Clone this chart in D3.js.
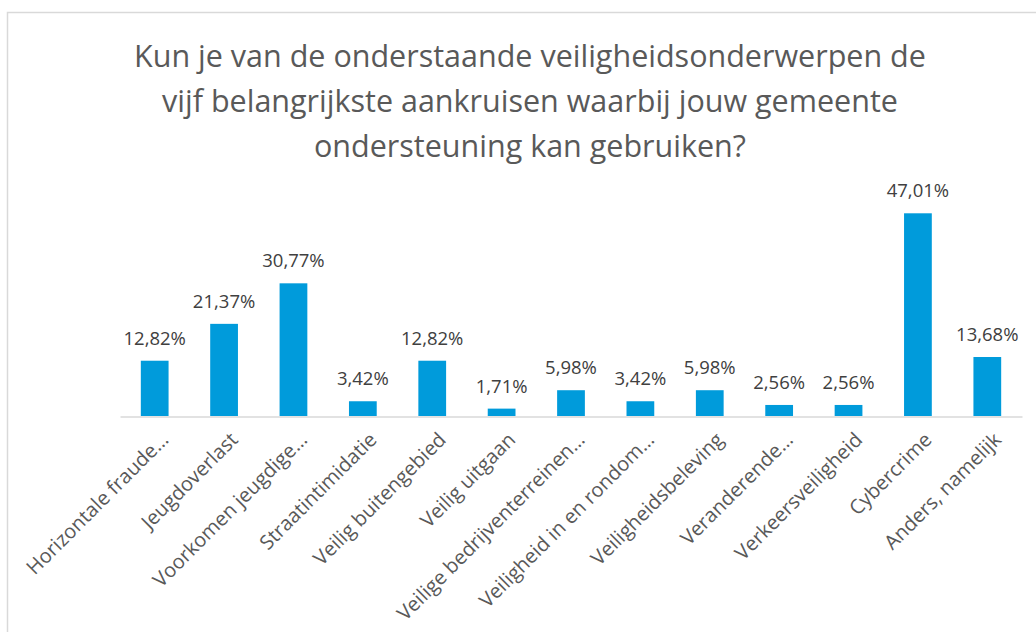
<!DOCTYPE html>
<html>
<head>
<meta charset="utf-8">
<script src="https://cdn.jsdelivr.net/npm/d3@7"></script>
<style>
  html, body { margin: 0; padding: 0; background: #ffffff; }
  svg { display: block; }
  text { font-family: "Open Sans", "Noto Sans", sans-serif; }
</style>
</head>
<body>
<svg id="chart" width="1036" height="632"></svg>
<script>
const titleLines = [
  "Kun je van de onderstaande veiligheidsonderwerpen de",
  "vijf belangrijkste aankruisen waarbij jouw gemeente",
  "ondersteuning kan gebruiken?"
];
const categories = [
  "Horizontale fraude…",
  "Jeugdoverlast",
  "Voorkomen jeugdige…",
  "Straatintimidatie",
  "Veilig buitengebied",
  "Veilig uitgaan",
  "Veilige bedrijventerreinen…",
  "Veiligheid in en rondom…",
  "Veiligheidsbeleving",
  "Veranderende…",
  "Verkeersveiligheid",
  "Cybercrime",
  "Anders, namelijk"
];
const values = [12.82, 21.37, 30.77, 3.42, 12.82, 1.71, 5.98, 3.42, 5.98, 2.56, 2.56, 47.01, 13.68];
const yDomain = [0, 50];

const svg = d3.select("#chart");
const plot = { left: 120, right: 1022, bottom: 416, top: 200.4 };

// frame
svg.append("rect")
  .attr("x", 7.5).attr("y", 12.5)
  .attr("width", 1100).attr("height", 700)
  .attr("fill", "#ffffff")
  .attr("stroke", "#d9d9d9").attr("stroke-width", 1.5);

// title
const title = svg.append("text")
  .attr("text-anchor", "middle")
  .attr("fill", "#595959")
  .style("font-size", "30.5px");
titleLines.forEach((t, i) => {
  title.append("tspan").attr("x", 530).attr("y", 67 + i * 45).text(t);
});

const x = d3.scaleBand()
  .domain(categories)
  .range([plot.left, plot.right])
  .paddingInner(0.6)
  .paddingOuter(0.3);

const y = d3.scaleLinear().domain(yDomain).range([plot.bottom, plot.top]);

const nl = d3.formatLocale({ decimal: ",", thousands: ".", grouping: [3], currency: ["€", ""] });
const fmt = v => nl.format(".2f")(v) + "%";

// bars
svg.append("g").selectAll("rect")
  .data(values)
  .join("rect")
  .attr("x", (d, i) => x(categories[i]))
  .attr("y", d => y(d))
  .attr("width", x.bandwidth())
  .attr("height", d => y(0) - y(d))
  .attr("fill", "#009bdb");

// baseline axis
const xAxis = d3.axisBottom(x).tickSize(0).tickFormat("");
const axisG = svg.append("g").attr("transform", `translate(0,${y(0) + 0.5})`).call(xAxis);
axisG.select(".domain").attr("stroke", "#d9d9d9").attr("stroke-width", 1.5);

// category labels
svg.append("g").selectAll("text")
  .data(categories)
  .join("text")
  .attr("transform", d => `translate(${x(d) + x.bandwidth() / 2 + 15},${y(0) + 25}) rotate(-45)`)
  .attr("text-anchor", "end")
  .attr("fill", "#595959")
  .style("font-size", "20px")
  .text(d => d);

// data labels
svg.append("g").selectAll("text")
  .data(values)
  .join("text")
  .attr("x", (d, i) => x(categories[i]) + x.bandwidth() / 2)
  .attr("y", d => y(d) - 16)
  .attr("text-anchor", "middle")
  .attr("fill", "#404040")
  .style("font-size", "18.5px")
  .text(d => fmt(d));
</script>
</body>
</html>
